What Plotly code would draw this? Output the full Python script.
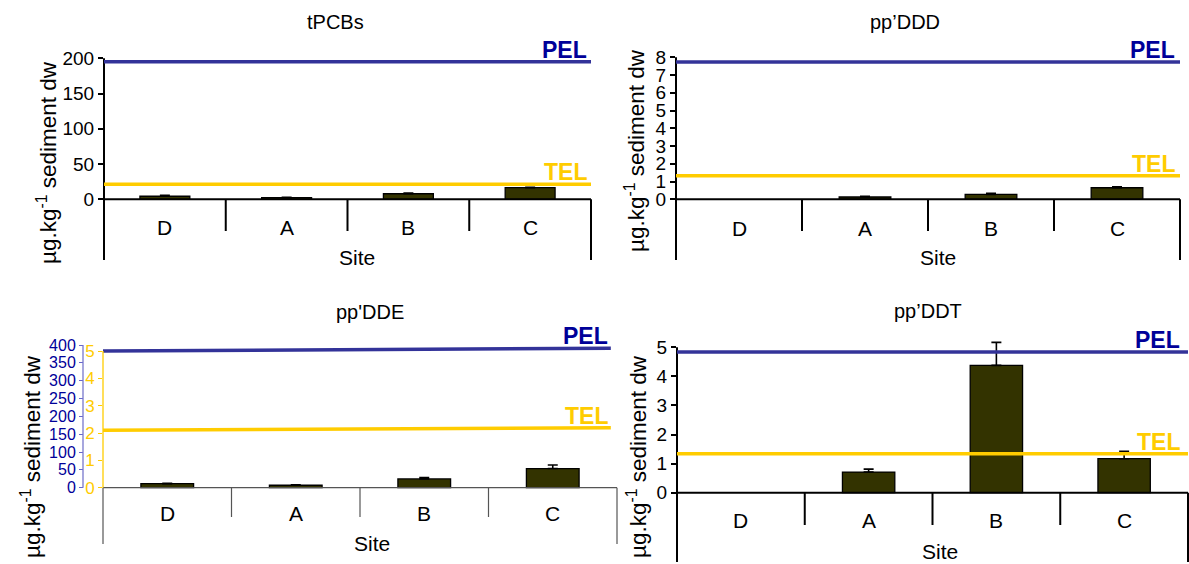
import plotly.graph_objects as go

W, H = 1189, 564
FONT = "Liberation Sans, Arial, sans-serif"

sites = ["D", "A", "B", "C"]

# mean concentrations and standard errors (µg/kg dry weight)
tpcb_mean = [4.3, 2.3, 7.9, 16.5]
tpcb_err = [1.4, 0.5, 1.0, 0.5]
ddd_mean = [None, 0.13, 0.28, 0.65]
ddd_err = [None, 0.04, 0.06, 0.06]
dde_mean = [0.15, 0.09, 0.32, 0.70]
dde_err = [0.01, 0.02, 0.05, 0.13]
ddt_mean = [None, 0.71, 4.38, 1.17]
ddt_err = [None, 0.10, 0.79, 0.25]

# sediment quality guidelines (TEL / PEL)
tpcb_tel, tpcb_pel = 21.3, 195
ddd_tel, ddd_pel = 1.33, 7.73
dde_tel = (2.10, 2.19)   # left end, right end (yellow scale)
dde_pel = (383, 391)     # left end, right end (blue scale)
ddt_tel, ddt_pel = 1.34, 4.84

titles = ["tPCBs", "pp\u2019DDD", "pp'DDE", "pp\u2019DDT"]

PEL_LINE = "#333399"
PEL_TEXT = "#000099"
TEL_COL = "#FFCC00"
BAR_COL = "#333300"

# panel frames in pixels: left, right, zero line, top tick, bottom, top tick value
panels = {
    1: dict(l=104, r=591, zero=199.3, top=58.3, bot=260, vmax=200, div=231),
    2: dict(l=676, r=1180, zero=199.3, top=57.3, bot=260, vmax=8, div=231),
    3: dict(l=103, r=617, zero=487.7, top=351.0, bot=544, vmax=5, div=517),
    4: dict(l=677, r=1188, zero=492.7, top=347.3, bot=562, vmax=5, div=525),
}
BLUE_TOP_PX = 345.0   # position of the 400 tick on the blue pp'DDE axis
BLUE_X_PX = 83.0
HEADROOM = 12         # px of plot area kept above the top tick


def px(x):
    return x / W


def py(y):
    return 1 - y / H


def label(x, y, text, size, **kw):
    d = dict(x=px(x), y=py(y), xref="paper", yref="paper", text=text,
             showarrow=False, xanchor="center", yanchor="middle",
             font=dict(family=FONT, size=size, color="black"))
    d.update(kw)
    return d


fig = go.Figure()
shapes = []
annots = []

data = {1: (tpcb_mean, tpcb_err), 2: (ddd_mean, ddd_err),
        3: (dde_mean, dde_err), 4: (ddt_mean, ddt_err)}
tick_steps = {1: 50, 2: 1, 3: 1, 4: 1}
tick_fs = {1: 19, 2: 19, 3: 17, 4: 19}

for i, p in panels.items():
    xs = "" if i == 1 else str(i)
    xa, ya = "x" + xs, "y" + xs
    scale = (p["zero"] - p["top"]) / p["vmax"]
    top_px = (BLUE_TOP_PX if i == 3 else p["top"]) - HEADROOM
    ymax = (p["zero"] - top_px) / scale
    ymin = -(p["bot"] - p["zero"]) / scale
    mean, err = data[i]

    fig.add_trace(go.Bar(
        x=sites, y=mean, xaxis=xa, yaxis=ya, width=0.41,
        marker=dict(color=BAR_COL, line=dict(color="black", width=1.3)),
        error_y=dict(type="data", array=err, symmetric=False,
                     arrayminus=[0] * len(err), color="black",
                     thickness=1.6, width=5),
        cliponaxis=False, showlegend=False, hoverinfo="skip"))

    step = tick_steps[i]
    n = int(round(p["vmax"] / step))
    tickvals = [k * step for k in range(n + 1)]
    ycol = TEL_COL if i == 3 else "black"
    fig.layout["xaxis" + xs] = dict(
        domain=[px(p["l"]), px(p["r"])], anchor=ya, range=[-0.5, 3.5],
        type="category", visible=False, fixedrange=True, automargin=False)
    fig.layout["yaxis" + xs] = dict(
        domain=[py(p["bot"]), py(top_px)], anchor=xa, range=[ymin, ymax],
        tickvals=tickvals, ticks="outside", ticklen=5 if i != 3 else 4,
        tickwidth=2 if i != 3 else 1, tickcolor=ycol,
        tickfont=dict(family=FONT, size=tick_fs[i], color=ycol),
        showgrid=False, zeroline=False, showline=False,
        fixedrange=True, automargin=False)

    lc = "#555555" if i == 3 else "black"
    lw = 1.2 if i == 3 else 2
    div_val = -(p["div"] - p["zero"]) / scale
    # value axis line (from the top tick down to the frame bottom)
    if i != 3:
        shapes.append(dict(type="line", xref=xa + " domain", yref=ya,
                           x0=0, x1=0, y0=p["vmax"], y1=ymin,
                           line=dict(color="black", width=2)))
    # baseline, category dividers, right-hand frame line
    shapes.append(dict(type="line", xref=xa + " domain", yref=ya, x0=0, x1=1,
                       y0=0, y1=0, line=dict(color=lc, width=lw)))
    for k in range(1, len(sites)):
        shapes.append(dict(type="line", xref=xa + " domain", yref=ya,
                           x0=k / len(sites), x1=k / len(sites),
                           y0=0, y1=div_val, line=dict(color=lc, width=lw)))
    shapes.append(dict(type="line", xref=xa + " domain", yref=ya, x0=1, x1=1,
                       y0=0, y1=ymin, line=dict(color=lc, width=lw)))

    # category labels, axis titles, panel titles
    lab_y = {1: 227, 2: 228, 3: 513, 4: 520}[i]
    for s in sites:
        annots.append(dict(x=s, xref=xa, y=py(lab_y), yref="paper",
                           text=s, showarrow=False, xanchor="center",
                           yanchor="middle",
                           font=dict(family=FONT, size=21, color="black")))
    sx, sy = {1: (357, 258), 2: (938, 257), 3: (372, 543), 4: (940, 551)}[i]
    annots.append(label(sx, sy, "Site", 21))
    tx, ty = {1: (335, 22), 2: (905, 22), 3: (370, 312), 4: (928, 311)}[i]
    annots.append(label(tx, ty, titles[i - 1], 20))
    yx, yy = {1: (47, 163), 2: (635, 151), 3: (31, 457), 4: (637, 457)}[i]
    annots.append(label(yx, yy, "\u00b5g.kg<sup>-1</sup> sediment dw", 22.5,
                        textangle=-90))

# guideline lines and their labels
guides = {
    1: ((tpcb_pel, tpcb_pel), (tpcb_tel, tpcb_tel), "y", "y", 1.0),
    2: ((ddd_pel, ddd_pel), (ddd_tel, ddd_tel), "y2", "y2", 1.0),
    3: (dde_pel, dde_tel, "y5", "y3", 0.988),
    4: ((ddt_pel, ddt_pel), (ddt_tel, ddt_tel), "y4", "y4", 1.0),
}
text_shift = {1: -2, 2: -3, 3: -1, 4: -6}
for i, (pel, tel, pel_ax, tel_ax, xend) in guides.items():
    xs = "" if i == 1 else str(i)
    xd = "x" + xs + " domain"
    for vals, ax, col, tcol, name in ((pel, pel_ax, PEL_LINE, PEL_TEXT, "PEL"),
                                      (tel, tel_ax, TEL_COL, TEL_COL, "TEL")):
        shapes.append(dict(type="line", xref=xd, yref=ax, x0=0, x1=xend,
                           y0=vals[0], y1=vals[1],
                           line=dict(color=col, width=3.5)))
        annots.append(dict(x=xend, xref=xd, y=vals[1], yref=ax,
                           xanchor="right", yanchor="bottom", showarrow=False,
                           text="<b>%s</b>" % name, xshift=text_shift[i],
                           yshift=-3,
                           font=dict(family=FONT, size=23, color=tcol)))

# second (blue) scale of the pp'DDE panel
p3 = panels[3]
blue_scale = (p3["zero"] - BLUE_TOP_PX) / 400
y3_scale = (p3["zero"] - p3["top"]) / 5
fig.add_trace(go.Scatter(x=[None], y=[None], xaxis="x3", yaxis="y5",
                         showlegend=False, hoverinfo="skip"))
fig.layout["yaxis5"] = dict(
    overlaying="y3", anchor="free", position=px(BLUE_X_PX), side="left",
    range=[-(p3["bot"] - p3["zero"]) / blue_scale,
           (p3["zero"] - BLUE_TOP_PX + HEADROOM) / blue_scale],
    tickvals=list(range(0, 401, 50)), ticks="outside", ticklen=4,
    tickwidth=1, tickcolor="#6666CC",
    tickfont=dict(family=FONT, size=16, color=PEL_TEXT),
    showgrid=False, zeroline=False, showline=False, fixedrange=True,
    automargin=False)
# axis lines of the two pp'DDE scales and the frame below them
shapes.append(dict(type="line", xref="paper", yref="y5", x0=px(BLUE_X_PX),
                   x1=px(BLUE_X_PX), y0=0, y1=400,
                   line=dict(color="#7777CC", width=1.3)))
shapes.append(dict(type="line", xref="x3 domain", yref="y3", x0=0, x1=0,
                   y0=0, y1=5, line=dict(color=TEL_COL, width=1.3)))
shapes.append(dict(type="line", xref="x3 domain", yref="y3", x0=0, x1=0,
                   y0=0, y1=-(p3["bot"] - p3["zero"]) / y3_scale,
                   line=dict(color="#555555", width=1.2)))

fig.update_layout(
    template="none",
    width=W, height=H, margin=dict(l=0, r=0, t=0, b=0, pad=0, autoexpand=False),
    paper_bgcolor="white", plot_bgcolor="rgba(0,0,0,0)",
    shapes=shapes, annotations=annots, bargap=0.5,
    font=dict(family=FONT, color="black"),
)

fig.write_html("out.html", config={"displayModeBar": False})
